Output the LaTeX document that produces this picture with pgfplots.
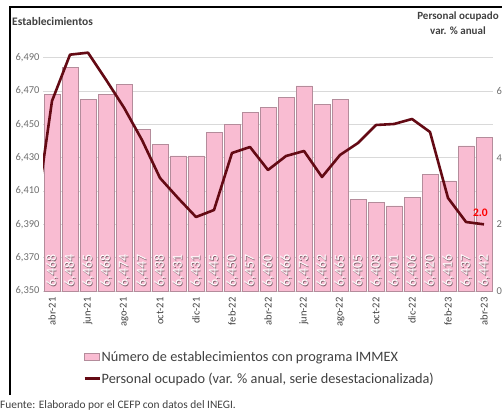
\documentclass[border=0pt]{standalone}
\usepackage{pgfplots}
\pgfplotsset{compat=1.18}
\usepackage{fontspec}
\setmainfont{Carlito}

\definecolor{barpink}{RGB}{249,188,210}
\definecolor{baredge}{RGB}{180,140,155}
\definecolor{linered}{RGB}{100,10,20}
\definecolor{textgray}{RGB}{64,64,64}
\definecolor{tickgray}{RGB}{110,110,110}
\definecolor{gridgray}{RGB}{217,217,217}

\pgfkeys{/pgf/number format/.cd, assume math mode=true, 1000 sep={,}}

\begin{document}
\begin{tikzpicture}
  \useasboundingbox (0,0) rectangle (502pt,412pt);
  \clip (0,0) rectangle (502pt,412pt);

  % recuadro del grafico
  \draw[black, line width=1.6pt] (10pt,17pt) -- (10pt,405pt) -- (520pt,405pt);

  % eje izquierdo: establecimientos
  \begin{axis}[
    at={(43pt,121pt)}, anchor=south west,
    scale only axis, width=450pt, height=250pt,
    xmin=-0.5, xmax=24.5, ymin=6350, ymax=6500,
    axis x line*=bottom, axis y line*=left,
    x axis line style={draw=gridgray, line width=0.8pt, -},
    y axis line style={draw=none},
    ytick={6350,6370,...,6490},
    ymajorgrids, grid style={gridgray, line width=0.6pt},
    yticklabel style={text=tickgray, font=\fontsize{10.5}{12}\selectfont},
    xtick={0,2,...,24},
    xticklabels={abr-21,jun-21,ago-21,oct-21,dic-21,feb-22,abr-22,jun-22,ago-22,oct-22,dic-22,feb-23,abr-23},
    xticklabel style={yshift=-3pt, rotate=90, anchor=east, text=textgray, font=\fontsize{10.5}{12}\selectfont},
    major tick length=0pt,
  ]
    \addplot[ybar, bar width=16pt, fill=barpink, draw=baredge, line width=0.9pt] coordinates {
      (0,6468) (1,6484) (2,6465) (3,6468) (4,6474) (5,6447) (6,6438) (7,6431)
      (8,6431) (9,6445) (10,6450) (11,6457) (12,6460) (13,6466) (14,6473)
      (15,6462) (16,6465) (17,6405) (18,6403) (19,6401) (20,6406) (21,6420)
      (22,6416) (23,6437) (24,6442)
    };
    % etiquetas de datos (sombra + texto)
    \addplot[only marks, mark=none, point meta=explicit, nodes near coords,
      nodes near coords style={xshift=0.7pt, yshift=-0.7pt, rotate=90, anchor=west,
        inner sep=1pt, text=baredge!70!black, font=\fontsize{14}{16}\selectfont}]
      coordinates {
      (0,6352) [6468] (1,6352) [6484] (2,6352) [6465] (3,6352) [6468] (4,6352) [6474]
      (5,6352) [6447] (6,6352) [6438] (7,6352) [6431] (8,6352) [6431] (9,6352) [6445]
      (10,6352) [6450] (11,6352) [6457] (12,6352) [6460] (13,6352) [6466] (14,6352) [6473]
      (15,6352) [6462] (16,6352) [6465] (17,6352) [6405] (18,6352) [6403] (19,6352) [6401]
      (20,6352) [6406] (21,6352) [6420] (22,6352) [6416] (23,6352) [6437] (24,6352) [6442]
    };
    \addplot[only marks, mark=none, point meta=explicit, nodes near coords,
      nodes near coords style={rotate=90, anchor=west,
        inner sep=1pt, text=white, font=\fontsize{14}{16}\selectfont}]
      coordinates {
      (0,6352) [6468] (1,6352) [6484] (2,6352) [6465] (3,6352) [6468] (4,6352) [6474]
      (5,6352) [6447] (6,6352) [6438] (7,6352) [6431] (8,6352) [6431] (9,6352) [6445]
      (10,6352) [6450] (11,6352) [6457] (12,6352) [6460] (13,6352) [6466] (14,6352) [6473]
      (15,6352) [6462] (16,6352) [6465] (17,6352) [6405] (18,6352) [6403] (19,6352) [6401]
      (20,6352) [6406] (21,6352) [6420] (22,6352) [6416] (23,6352) [6437] (24,6352) [6442]
    };
  \end{axis}

  % eje derecho: personal ocupado
  \begin{axis}[
    at={(43pt,121pt)}, anchor=south west,
    scale only axis, width=450pt, height=250pt,
    xmin=-0.5, xmax=24.5, ymin=0, ymax=7.5,
    axis x line=none, axis y line*=right,
    y axis line style={draw=none},
    ytick={0,2,4,6},
    yticklabel style={text=tickgray, font=\fontsize{10.5}{12}\selectfont},
    major tick length=0pt,
    legend style={at={(0.089,-0.232)}, anchor=north west, draw=none, fill=none,
      font=\fontsize{14.3}{16}\selectfont, text=textgray, row sep=6pt,
      inner sep=0pt, nodes={inner xsep=0.8pt}},
    legend cell align=left,
  ]
    \addlegendimage{legend image code/.code={
      \draw[fill=barpink, draw=baredge, line width=0.8pt] (0pt,-3.5pt) rectangle (15pt,4pt);}}
    \addlegendentry{Número de establecimientos con programa IMMEX}
    \addplot[linered, line width=2.6pt, line join=round,
      legend image code/.code={\draw[linered, line width=2.6pt] (0pt,0pt) -- (15pt,0pt);}]
      coordinates {
      (-1,1.9) (0,5.7) (1,7.09) (2,7.15) (3,6.34) (4,5.5) (5,4.53) (6,3.39)
      (7,2.79) (8,2.22) (9,2.43) (10,4.14) (11,4.32) (12,3.63) (13,4.05)
      (14,4.2) (15,3.42) (16,4.08) (17,4.44) (18,4.98) (19,5.01) (20,5.16)
      (21,4.77) (22,2.79) (23,2.07) (24,2.0)
    };
    \addlegendentry{Personal ocupado (var. \% anual, serie desestacionalizada)}
    \node[anchor=base, text=red, font=\bfseries\fontsize{11.5}{13}\selectfont, inner sep=0pt]
      at (axis cs:23.8,2.25) {2.0};
  \end{axis}

  % titulos
  \node[anchor=base west, text=textgray, font=\bfseries\fontsize{11.5}{13}\selectfont, inner sep=0pt]
    at (12pt,386pt) {Establecimientos};
  \node[anchor=north, align=center, text=textgray, font=\bfseries\fontsize{11}{14.5}\selectfont, inner sep=0pt]
    at (458pt,400pt) {Personal ocupado\\var. \% anual};
  \node[anchor=base west, text=textgray, font=\fontsize{11.4}{13}\selectfont, inner sep=0pt]
    at (0pt,4pt) {Fuente: Elaborado por el CEFP con datos del INEGI.};
\end{tikzpicture}
\end{document}
